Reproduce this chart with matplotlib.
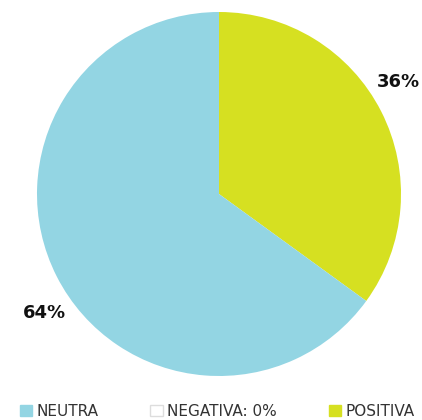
import matplotlib
matplotlib.use("Agg")
import matplotlib.pyplot as plt
from matplotlib.patches import Patch
import numpy as np

categories = ["POSITIVA", "NEGATIVA", "NEUTRA"]
values = [35, 0, 65]
colors = ["#D6E021", "#FFFFFF", "#93D5E3"]
legend_labels = ["NEUTRA", "NEGATIVA: 0%", "POSITIVA"]
pct_labels = {"POSITIVA": "36%", "NEUTRA": "64%"}

plt.rcParams['font.family'] = ['DejaVu Sans']

fig = plt.figure(figsize=(4.22, 4.20), dpi=100)
ax = fig.add_axes([37/422, 44/420, 364/422, 364/420])
wedges, _ = ax.pie(values, colors=colors, startangle=90, counterclock=False,
                   radius=1.0, wedgeprops=dict(linewidth=0))
ax.set_xlim(-1, 1)
ax.set_ylim(-1, 1)
ax.set_aspect('equal')

label_angles = {"POSITIVA": 32.0, "NEUTRA": 214.4}
for cat in categories:
    if cat in pct_labels:
        a = np.deg2rad(label_angles[cat])
        r = 1.16
        ax.text(r*np.cos(a), r*np.sin(a), pct_labels[cat], ha='center', va='center',
                fontsize=13, fontweight='bold', color='#111111', clip_on=False)

handles = [Patch(facecolor="#93D5E3", edgecolor="#93D5E3"),
           Patch(facecolor="#FFFFFF", edgecolor="#DDDDDD"),
           Patch(facecolor="#D6E021", edgecolor="#D6E021")]
fig.legend(handles, legend_labels, loc='lower center', bbox_to_anchor=(0.515, -0.03),
           ncol=3, frameon=False, fontsize=11, labelcolor='#333333',
           handlelength=0.8, handleheight=0.8, handletextpad=0.3, columnspacing=3.4)

fig.savefig("out.png", dpi=100)
